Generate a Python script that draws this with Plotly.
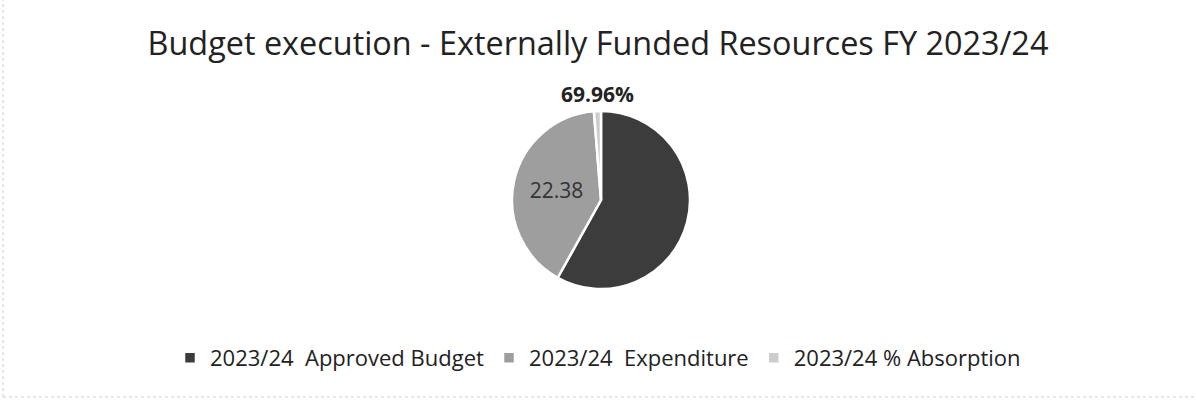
import plotly.graph_objects as go

labels = ["2023/24  Approved Budget", "2023/24  Expenditure", "2023/24 % Absorption"]
values = [31.99, 22.38, 0.6996]
colors = ["#3c3c3c", "#9e9e9e", "#cccccc"]

W, H = 1196, 405
cx, cy, r = 601, 200, 89

slice_text = ["", f"{values[1]:.2f}", ""]

fig = go.Figure(go.Pie(
    labels=labels,
    values=values,
    sort=False,
    direction="clockwise",
    rotation=0,
    marker=dict(colors=colors, line=dict(color="white", width=2.5)),
    text=slice_text,
    textinfo="text",
    textposition="inside",
    insidetextorientation="horizontal",
    textfont=dict(family="Open Sans", size=21, color="#333333"),
    hoverinfo="label+value",
    domain=dict(x=[(cx - r) / W, (cx + r) / W], y=[(H - cy - r) / H, (H - cy + r) / H]),
))

# absorption percentage shown above the thin slice
fig.add_annotation(
    x=597 / W, y=(H - 94) / H, xref="paper", yref="paper",
    xanchor="center", yanchor="middle",
    text=f"<b>{values[2] * 100:.2f}%</b>", showarrow=False,
    font=dict(family="Open Sans", size=21, color="#222222"),
)

fig.update_layout(
    width=W, height=H,
    margin=dict(l=0, r=0, t=0, b=0),
    paper_bgcolor="white",
    title=dict(
        text="Budget execution - Externally Funded Resources FY 2023/24",
        x=0.5, xanchor="center", y=(H - 44) / H, yanchor="middle",
        font=dict(family="Open Sans", size=32.4, color="#222222"),
    ),
    showlegend=True,
    legend=dict(
        orientation="h", x=0.5, xanchor="center", y=(H - 358) / H, yanchor="middle",
        font=dict(family="Open Sans", size=22, color="#222222"),
        itemwidth=30, tracegroupgap=0,
    ),
    shapes=[
        dict(type="line", xref="paper", yref="paper", x0=3 / W, x1=3 / W, y0=(H - 397) / H, y1=1,
             line=dict(color="#cfcfcf", width=1, dash="dot")),
        dict(type="line", xref="paper", yref="paper", x0=3 / W, x1=1, y0=(H - 397) / H, y1=(H - 397) / H,
             line=dict(color="#cfcfcf", width=1, dash="dot")),
    ],
)

fig.write_html("out.html")
